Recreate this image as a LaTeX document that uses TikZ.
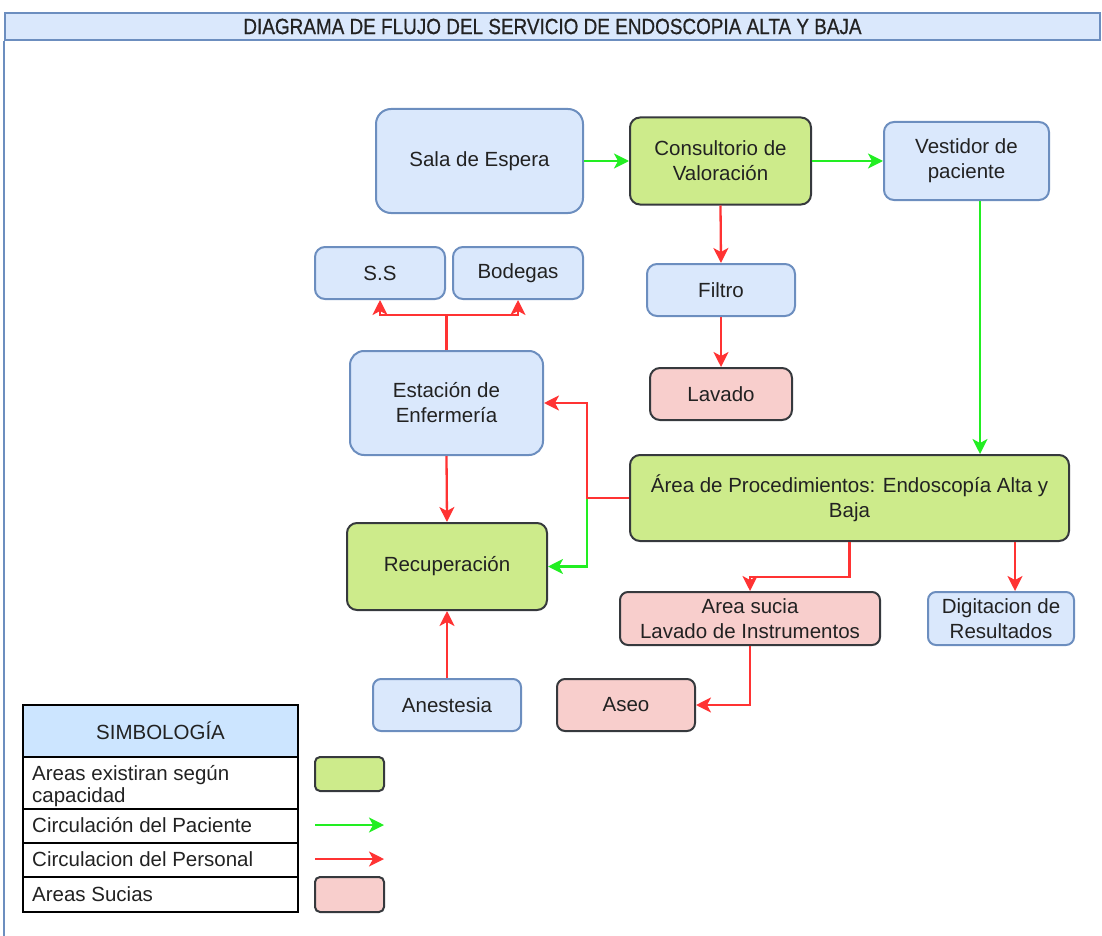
\documentclass[tikz,border=0pt]{standalone}
\usepackage{fontspec}
\setmainfont{Liberation Sans}
\usetikzlibrary{arrows.meta}
\definecolor{bfill}{HTML}{DAE8FC}
\definecolor{bdraw}{HTML}{6C8EBF}
\definecolor{gfill}{HTML}{CDEB8B}
\definecolor{pfill}{HTML}{F8CECC}
\definecolor{dk}{HTML}{36393D}
\definecolor{hfill}{HTML}{CCE5FF}
\definecolor{gline}{HTML}{22EE22}
\definecolor{rline}{HTML}{FF3333}
\definecolor{txt}{HTML}{222222}
\newcommand\nf{\fontsize{20.5}{25}\selectfont}
\begin{document}
\begin{tikzpicture}[x=1pt,y=-1pt,
  box/.style={rounded corners=10pt, line width=2pt, align=center, font=\nf, text=txt, inner sep=2pt},
  bluebox/.style={box, draw=bdraw, fill=bfill},
  greenbox/.style={box, draw=dk, fill=gfill},
  pinkbox/.style={box, draw=dk, fill=pfill},
  ga/.style={draw=gline, line width=2.3pt, -{Stealth[length=15pt,width=15pt,inset=4pt]}},
  ra/.style={draw=rline, line width=2.3pt, -{Stealth[length=15pt,width=15pt,inset=4pt]}},
  cell/.style={draw=black, line width=2pt, minimum width=275, inner sep=0pt},
  ltext/.style={anchor=west, font=\nf, text=txt, align=left, inner sep=0pt}
]
\useasboundingbox (0,0) rectangle (1102,936);
% title
\node[draw=bdraw, fill=bfill, line width=1.8pt, minimum width=1095, minimum height=27, inner sep=0pt,
      font=\fontsize{22}{24}\selectfont, text=txt] (title) at (552.5,26.5)
      {\addfontfeatures{FakeStretch=0.86,FakeBold=0.6}DIAGRAMA DE FLUJO DEL SERVICIO DE ENDOSCOPIA ALTA Y BAJA};
\draw[draw=bdraw, line width=1.8pt] (title.south west) -- ++(0,900);

% nodes
\node[bluebox, rounded corners=15pt, minimum width=207, minimum height=104] (sala) at (479.5,161) {Sala de Espera};
\node[greenbox, minimum width=181, minimum height=87] (cons) at (720.5,161) {Consultorio de\\Valoración};
\node[bluebox, minimum width=165, minimum height=78] (vest) at (966.5,161) {Vestidor de\\paciente};
\node[bluebox, minimum width=130, minimum height=52] (ss) at (380,273) {S.S};
\node[bluebox, minimum width=130, minimum height=52] (bod) at (518,273) {Bodegas};
\node[bluebox, minimum width=148, minimum height=52] (fil) at (721,290) {Filtro};
\node[pinkbox, minimum width=142, minimum height=52] (lav) at (721,394) {Lavado};
\node[bluebox, rounded corners=14pt, minimum width=193, minimum height=104] (est) at (446.5,403) {Estación de\\Enfermería};
\node[greenbox, minimum width=439, minimum height=86] (area) at (849.5,498) {Área de Procedimientos: Endoscopía Alta y\\Baja};
\node[greenbox, minimum width=200, minimum height=87] (rec) at (447,566.5) {Recuperación};
\node[pinkbox, rounded corners=8pt, minimum width=260, minimum height=53] (suc) at (750,618.5) {Area sucia\\Lavado de Instrumentos};
\node[bluebox, rounded corners=8pt, minimum width=146, minimum height=53] (dig) at (1001,618.5) {Digitacion de\\Resultados};
\node[bluebox, rounded corners=8pt, minimum width=148, minimum height=52] (anes) at (447,705) {Anestesia};
\node[pinkbox, rounded corners=8pt, minimum width=138, minimum height=52] (aseo) at (626,705) {Aseo};

% connectors
\coordinate (vx) at (980,0);
\coordinate (dx) at (1015,0);
\coordinate (jn) at (587,498);
\draw[ga] (sala) -- (cons);
\draw[ga] (cons) -- (vest);
\draw[ra] (cons.south) -- (fil.north);
\draw[ra] (fil.south) -- (lav.north);
\draw[ga] (vest.south -| vx) -- (area.north -| vx);
\draw[ra] (est.north) -- ++(0,-35) -| (ss.south);
\draw[ra] (est.north) -- ++(0,-35) -| (bod.south);
\draw[ga] (jn) |- (rec.east);
\draw[ra] (area.west) -- (jn) |- (est.east);
\draw[ra] (est.south) -- (rec.north);
\draw[ra] (anes.north) -- (rec.south);
\draw[ra] (area.south) -- ++(0,35) -| (suc.north);
\draw[ra] (area.south -| dx) -- (dig.north -| dx);
\draw[ra] (suc.south) |- (aseo.east);

% legend
\node[cell, fill=hfill, minimum height=52, font=\nf, text=txt] (lh) at (160.5,731) {SIMBOLOGÍA};
\node[cell, minimum height=52] (l1) at (160.5,783) {};
\node[cell, minimum height=34] (l2) at (160.5,826) {};
\node[cell, minimum height=34] (l3) at (160.5,860) {};
\node[cell, minimum height=35] (l4) at (160.5,894.5) {};
\node[ltext] (t1) at (32,786) {Areas existiran según\\[-3pt]capacidad};
\node[ltext] (t2) at (32,825) {Circulación del Paciente};
\node[ltext] (t3) at (32,859) {Circulacion del Personal};
\node[ltext] (t4) at (32,894) {Areas Sucias};
\node[greenbox, rounded corners=5pt, minimum width=69, minimum height=34] (sg) at (349.5,774) {};
\node[pinkbox, rounded corners=5pt, minimum width=69, minimum height=35] (sp) at (349.5,894.5) {};
\coordinate (g0) at (315,825);
\coordinate (g1) at (384,825);
\coordinate (r0) at (315,859);
\coordinate (r1) at (384,859);
\draw[ga] (g0) -- (g1);
\draw[ra] (r0) -- (r1);
\end{tikzpicture}
\end{document}
